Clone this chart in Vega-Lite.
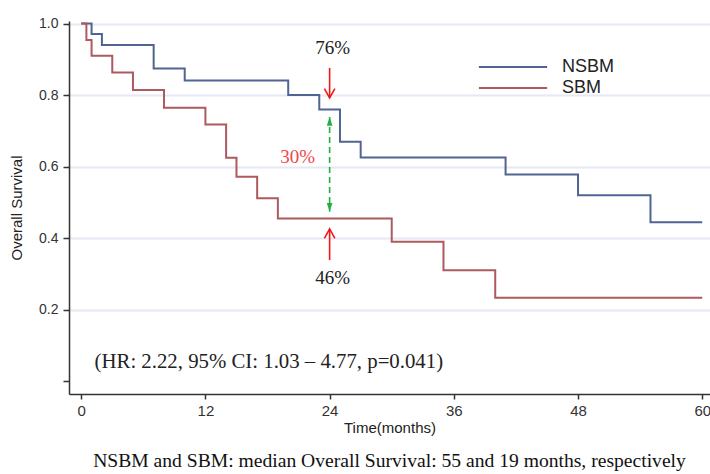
{
  "$schema": "https://vega.github.io/schema/vega-lite/v6.json",
  "width": 641,
  "height": 373,
  "autosize": "none",
  "padding": {"left": 69, "top": 21, "right": 0, "bottom": 80},
  "config": {"view": {"stroke": null}, "background": "white"},
  "title": {"text": "NSBM and SBM: median Overall Survival: 55 and 19 months, respectively", "orient": "bottom", "anchor": "middle", "frame": "group", "font": "Liberation Serif", "fontSize": 19.6, "fontWeight": "normal", "color": "#111", "offset": 17},
  "datasets": {
    "km": [
      {"group": "NSBM", "t": 0, "v": 1.0},
      {"group": "NSBM", "t": 1, "v": 0.971},
      {"group": "NSBM", "t": 2, "v": 0.94},
      {"group": "NSBM", "t": 7, "v": 0.874},
      {"group": "NSBM", "t": 10, "v": 0.841},
      {"group": "NSBM", "t": 20, "v": 0.8},
      {"group": "NSBM", "t": 23, "v": 0.76},
      {"group": "NSBM", "t": 25, "v": 0.67},
      {"group": "NSBM", "t": 27, "v": 0.626},
      {"group": "NSBM", "t": 41, "v": 0.578},
      {"group": "NSBM", "t": 48, "v": 0.52},
      {"group": "NSBM", "t": 55, "v": 0.445},
      {"group": "NSBM", "t": 60, "v": 0.445},
      {"group": "SBM", "t": 0, "v": 1.0},
      {"group": "SBM", "t": 0.5, "v": 0.954},
      {"group": "SBM", "t": 1, "v": 0.91},
      {"group": "SBM", "t": 3, "v": 0.863},
      {"group": "SBM", "t": 5, "v": 0.814},
      {"group": "SBM", "t": 8, "v": 0.765},
      {"group": "SBM", "t": 12, "v": 0.718},
      {"group": "SBM", "t": 14, "v": 0.625},
      {"group": "SBM", "t": 15, "v": 0.572},
      {"group": "SBM", "t": 17, "v": 0.512},
      {"group": "SBM", "t": 19, "v": 0.455},
      {"group": "SBM", "t": 30, "v": 0.39},
      {"group": "SBM", "t": 35, "v": 0.311},
      {"group": "SBM", "t": 40, "v": 0.234},
      {"group": "SBM", "t": 60, "v": 0.234}
    ],
    "redArrows": [
      {"t": 24, "v": 0.876, "v2": 0.792},
      {"t": 24, "v": 0.339, "v2": 0.426}
    ],
    "greenArrow": [{"t": 24, "v": 0.739, "v2": 0.474}],
    "headDown": [{"t": 24, "v": 0.792}],
    "headUp": [{"t": 24, "v": 0.426}],
    "greenTop": [{"t": 24, "v": 0.739}],
    "greenBottom": [{"t": 24, "v": 0.474}],
    "blackLabels": [
      {"t": 24.3, "v": 0.932, "label": "76%"},
      {"t": 24.3, "v": 0.289, "label": "46%"}
    ],
    "redLabels": [{"t": 20.9, "v": 0.627, "label": "30%"}],
    "hr": [{"t": 1.29, "v": 0.054, "label": "(HR: 2.22, 95% CI: 1.03 – 4.77, p=0.041)"}]
  },
  "encoding": {
    "x": {
      "field": "t", "type": "quantitative",
      "scale": {"domain": [-1.18, 60.75], "nice": false, "zero": false},
      "axis": {
        "values": [0, 12, 24, 36, 48, 60], "grid": false, "title": "Time(months)",
        "labelFont": "Liberation Sans", "labelFontSize": 15, "labelColor": "#333", "labelPadding": 4,
        "titleFont": "Liberation Sans", "titleFontSize": 15, "titleFontWeight": "normal", "titleColor": "#222", "titlePadding": 2,
        "domainColor": "#333", "domainWidth": 1.5, "tickColor": "#333", "tickWidth": 1.5, "tickSize": 5
      }
    },
    "y": {
      "field": "v", "type": "quantitative",
      "scale": {"domain": [-0.035, 1.007], "nice": false, "zero": false},
      "axis": {
        "values": [0, 0.2, 0.4, 0.6, 0.8, 1.0],
        "labelExpr": "datum.value == 0 ? '' : format(datum.value, '.1f')",
        "grid": true, "gridColor": {"condition": {"test": "datum.value == 0", "value": "transparent"}, "value": "#e6e8f4"}, "gridWidth": 2,
        "title": "Overall Survival",
        "labelFont": "Liberation Sans", "labelFontSize": 14, "labelColor": "#333", "labelPadding": 5,
        "titleFont": "Liberation Sans", "titleFontSize": 15, "titleFontWeight": "normal", "titleColor": "#222", "titlePadding": 14,
        "domainColor": "#333", "domainWidth": 1.5, "tickColor": "#333", "tickWidth": 1.5, "tickSize": 6
      }
    }
  },
  "layer": [
    {
      "data": {"name": "km"},
      "mark": {"type": "line", "interpolate": "step-after", "strokeWidth": 2},
      "encoding": {
        "color": {
          "field": "group", "type": "nominal",
          "scale": {"domain": ["NSBM", "SBM"], "range": ["#506494", "#ac5a5e"]},
          "legend": {
            "orient": "none", "legendX": 432, "legendY": 34, "title": null,
            "symbolType": "M-3.1,0L3.1,0", "symbolSize": 484, "symbolStrokeWidth": 2,
            "labelFont": "Liberation Sans", "labelFontSize": 18, "labelColor": "#222",
            "labelOffset": 37, "rowPadding": 0, "padding": 0
          }
        }
      }
    },
    {
      "data": {"name": "redArrows"},
      "mark": {"type": "rule", "color": "#f01818", "strokeWidth": 1.6},
      "encoding": {"y2": {"field": "v2"}}
    },
    {
      "data": {"name": "greenArrow"},
      "mark": {"type": "rule", "color": "#20b040", "strokeWidth": 1.6, "strokeDash": [6, 4]},
      "encoding": {"y2": {"field": "v2"}}
    },
    {
      "data": {"name": "headDown"},
      "mark": {"type": "point", "shape": "M-1,-1.8L0,0L1,-1.8", "size": 110, "filled": false, "stroke": "#f01818", "strokeWidth": 1.6, "opacity": 1}
    },
    {
      "data": {"name": "headUp"},
      "mark": {"type": "point", "shape": "M-1,1.8L0,0L1,1.8", "size": 110, "filled": false, "stroke": "#f01818", "strokeWidth": 1.6, "opacity": 1}
    },
    {
      "data": {"name": "greenTop"},
      "mark": {"type": "point", "shape": "M0,0L-0.7,2.2L0.7,2.2Z", "size": 64, "filled": true, "fill": "#20b040", "strokeWidth": 0, "opacity": 1}
    },
    {
      "data": {"name": "greenBottom"},
      "mark": {"type": "point", "shape": "M0,0L-0.7,-2.2L0.7,-2.2Z", "size": 64, "filled": true, "fill": "#20b040", "strokeWidth": 0, "opacity": 1}
    },
    {
      "data": {"name": "blackLabels"},
      "mark": {"type": "text", "font": "Liberation Serif", "fontSize": 19, "color": "#222", "align": "center", "baseline": "middle"},
      "encoding": {"text": {"field": "label"}}
    },
    {
      "data": {"name": "redLabels"},
      "mark": {"type": "text", "font": "Liberation Serif", "fontSize": 19, "color": "#f04848", "align": "center", "baseline": "middle"},
      "encoding": {"text": {"field": "label"}}
    },
    {
      "data": {"name": "hr"},
      "mark": {"type": "text", "font": "Liberation Serif", "fontSize": 20.8, "color": "#222", "align": "left", "baseline": "middle"},
      "encoding": {"text": {"field": "label"}}
    }
  ]
}
